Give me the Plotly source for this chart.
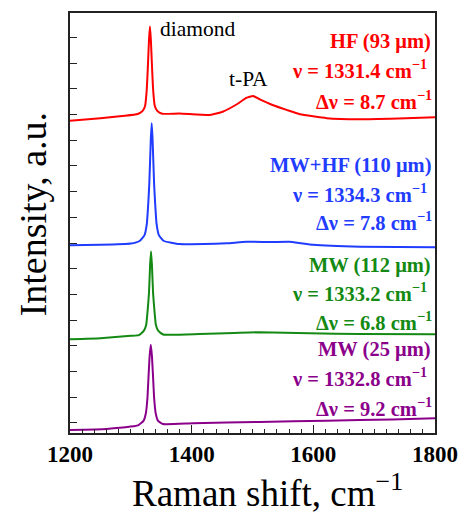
import plotly.graph_objects as go

# ---- data ----
hf_x = [1200,1250,1290,1311.4,1319.4,1323.4,1325.9,1327.8,1329.9,1331.4,1332.9,1335.0,1336.9,1339.4,1343.4,1351.4,
        1380,1430,1451,1475,1490,1501,1512,1533,1556,1578,1622,1677,1740,1800]
hf_y = [11.76,11.86,11.95,12.02,12.14,12.33,12.88,13.75,14.92,15.42,14.92,13.75,12.88,12.33,12.14,12.03,
        12.04,11.98,12.11,12.41,12.65,12.72,12.59,12.37,12.18,12.01,11.86,11.82,11.85,11.89]

mwhf_x = [1200,1250,1300,1314.3,1322.3,1326.3,1328.8,1330.4,1332.8,1334.3,1335.8,1338.2,1339.8,1342.3,1346.3,1354.3,
          1380,1420,1458,1490,1530,1560,1580,1600,1677,1800]
mwhf_y = [6.91,6.93,6.98,7.08,7.30,7.75,8.6,9.34,11.01,11.66,11.01,9.34,8.6,7.75,7.30,7.08,
          6.96,6.96,6.99,7.05,7.04,7.05,6.99,6.93,6.86,6.84]

mw112_x = [1200,1250,1300,1313.2,1321.2,1325.2,1327.7,1329.8,1331.7,1333.2,1334.7,1336.6,1338.7,1341.2,1345.2,1353.2,
           1413,1470,1512,1594,1677,1800]
mw112_y = [3.26,3.30,3.39,3.42,3.58,3.81,4.40,5.04,6.15,6.67,6.15,5.04,4.40,3.81,3.58,3.44,
           3.46,3.50,3.53,3.49,3.46,3.45]

mw25_x = [1200,1260,1300,1312.8,1320.8,1324.8,1327.3,1328.4,1330.8,1332.8,1334.8,1337.2,1338.3,1340.8,1344.8,1352.8,
          1402,1512,1622,1730,1800]
mw25_y = [-0.27,-0.23,-0.14,-0.08,0.08,0.39,0.97,1.48,2.57,3.04,2.57,1.48,0.97,0.39,0.08,-0.04,
          -0.01,0.04,0.09,0.14,0.18]

series_names = ["HF (93 μm)", "MW+HF (110 μm)", "MW (112 μm)", "MW (25 μm)"]
peak_pos = ["1331.4", "1334.3", "1333.2", "1332.8"]
peak_fwhm = ["8.7", "7.8", "6.8", "9.2"]
colors = ["#ff0000", "#1f3cff", "#148a14", "#8b008b"]

x_ticks = [1200, 1400, 1600, 1800]

FONT = "Liberation Serif"

fig = go.Figure()
for xs, ys, c, n in [(hf_x, hf_y, colors[0], series_names[0]),
                     (mwhf_x, mwhf_y, colors[1], series_names[1]),
                     (mw112_x, mw112_y, colors[2], series_names[2]),
                     (mw25_x, mw25_y, colors[3], series_names[3])]:
    fig.add_trace(go.Scatter(x=xs, y=ys, mode="lines", line=dict(color=c, width=2, shape="spline", smoothing=0.4),
                             name=n, showlegend=False, hoverinfo="skip"))

# label positions (paper coords), one block per series
block_y = [(0.933, 0.867, 0.794), (0.638, 0.571, 0.505), (0.398, 0.336, 0.267), (0.200, 0.133, 0.062)]
right_x = (0.9945, 0.984, 0.997)
for i in range(4):
    lines = [f"<b>{series_names[i]}</b>",
             f"<b>ν = {peak_pos[i]} cm<sup>−1</sup></b>",
             f"<b>Δν = {peak_fwhm[i]} cm<sup>−1</sup></b>"]
    for j, t in enumerate(lines):
        fig.add_annotation(x=right_x[j], y=block_y[i][j], xref="paper", yref="paper", text=t,
                           showarrow=False, xanchor="right", yanchor="middle",
                           font=dict(family=FONT, size=20.5, color=colors[i]))

fig.add_annotation(x=0.24, y=0.963, xref="paper", yref="paper", text="diamond", showarrow=False,
                   xanchor="left", yanchor="middle", font=dict(family=FONT, size=21.5, color="black"))
fig.add_annotation(x=0.488, y=0.843, xref="paper", yref="paper", text="t-PA", showarrow=False,
                   xanchor="center", yanchor="middle", font=dict(family=FONT, size=21.5, color="black"))

# axis titles
fig.add_annotation(x=0.54, y=-0.137, xref="paper", yref="paper", text="Raman shift, cm<sup>−1</sup>",
                   showarrow=False, xanchor="center", yanchor="middle",
                   font=dict(family=FONT, size=37, color="black"))
fig.add_annotation(x=-0.102, y=0.52, xref="paper", yref="paper", text="Intensity, a.u.",
                   showarrow=False, xanchor="center", yanchor="middle", textangle=-90,
                   font=dict(family=FONT, size=38, color="black"))

fig.update_xaxes(range=[1200, 1800], tickvals=x_ticks, ticktext=[f"<b>{v}</b>" for v in x_ticks],
                 ticks="inside", ticklen=8, tickwidth=1.3, tickcolor="#222",
                 minor=dict(ticks="inside", dtick=20, tick0=1200, ticklen=4, tickwidth=1.1, tickcolor="#222"),
                 showline=True, linecolor="#222", linewidth=1.5, mirror=True,
                 showgrid=False, zeroline=False, automargin=False,
                 tickfont=dict(family=FONT, size=23, color="black"))
fig.update_yaxes(range=[-0.39, 15.95], tick0=0, dtick=1, ticks="inside", ticklen=7, tickwidth=1.3,
                 tickcolor="#222", showticklabels=False,
                 showline=True, linecolor="#222", linewidth=1.5, mirror=True,
                 showgrid=False, zeroline=False, automargin=False)

fig.update_layout(width=460, height=520, autosize=False,
                  margin=dict(l=70, r=25, t=13, b=87),
                  plot_bgcolor="white", paper_bgcolor="white",
                  showlegend=False, hovermode=False)

fig.write_html("out.html", config={"displayModeBar": False},
               post_script="document.body.style.margin='0';document.body.style.overflow='hidden';")
